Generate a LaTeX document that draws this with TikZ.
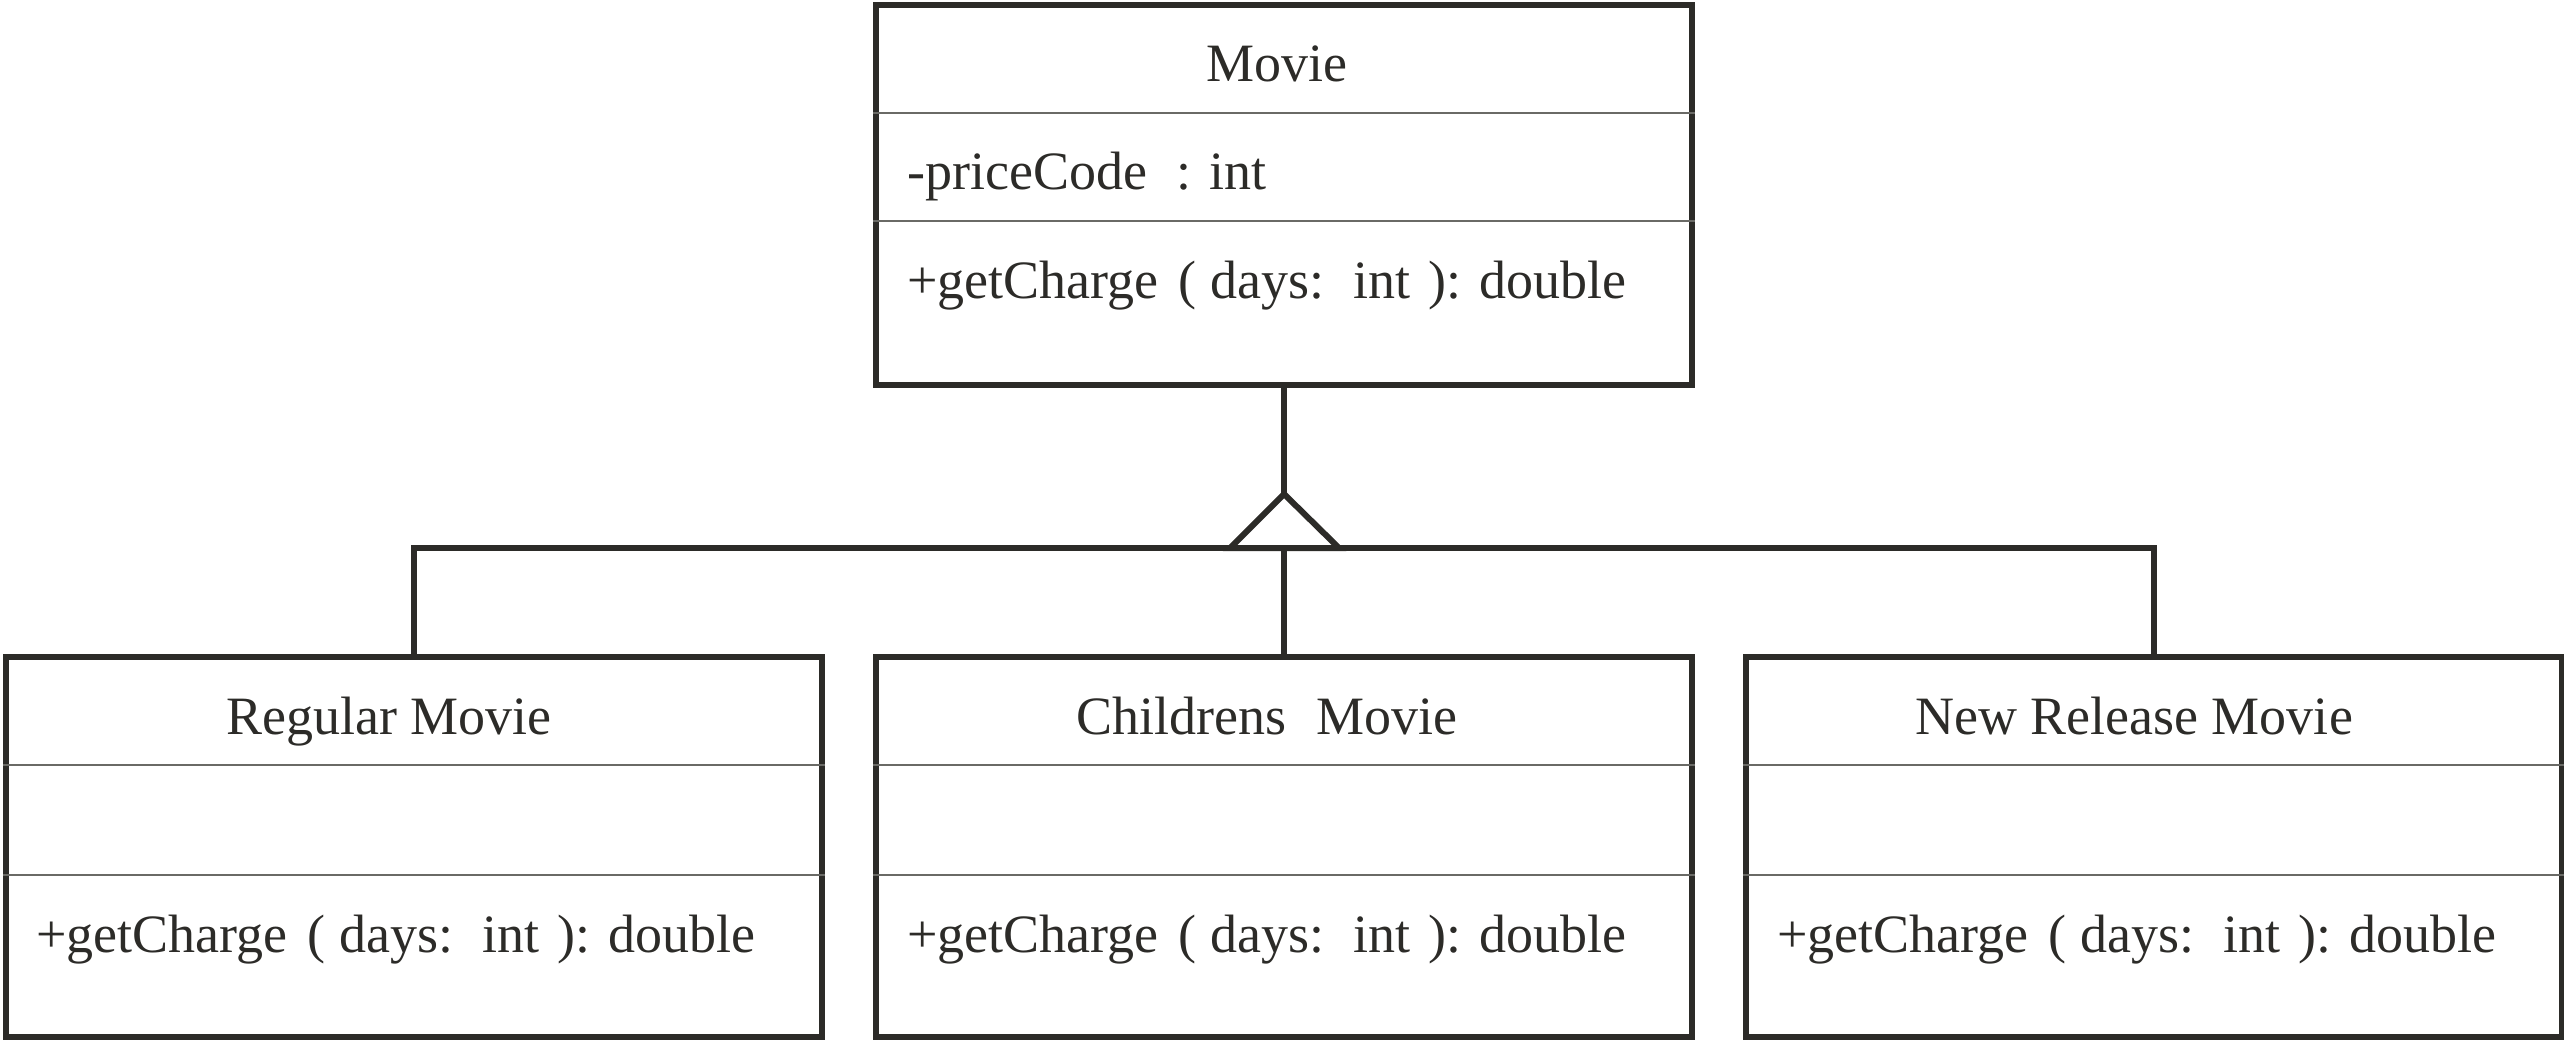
\documentclass[tikz,border=0pt]{standalone}
\usepackage{fontspec}
\setmainfont{Liberation Serif}
\definecolor{ink}{HTML}{2C2B28}
\definecolor{divc}{HTML}{6A6A66}
\newcommand{\opline}{+getCharge\hspace{0.12em} ( days:\hspace{0.22em} int\hspace{0.08em} ): double}
\begin{document}
\begin{tikzpicture}[x=1pt,y=-1pt,
  classbox/.style={draw=ink,line width=6pt,rectangle,minimum width=816pt,minimum height=380pt,inner sep=0pt},
  divline/.style={draw=divc,line width=1.6pt},
  conn/.style={draw=ink,line width=6pt,line join=miter},
  txt/.style={inner sep=0pt,text=ink,font=\fontsize{54}{58}\selectfont},
  lt/.style={txt,anchor=base west},
  ct/.style={txt,anchor=base}]
\useasboundingbox (0,0) rectangle (2564,1040);
% class boxes
\node[classbox] (movie) at (1284,195) {};
\node[classbox] (reg) at (414,847) {};
\node[classbox] (child) at (1284,847) {};
\node[classbox] (newr) at (2154,847) {};
% dividers
\draw[divline] (movie.west |- 0,113) -- (movie.east |- 0,113);
\draw[divline] (movie.west |- 0,221) -- (movie.east |- 0,221);
\foreach \b in {reg,child,newr}{
  \draw[divline] (\b.west |- 0,765) -- (\b.east |- 0,765);
  \draw[divline] (\b.west |- 0,875) -- (\b.east |- 0,875);
}
% texts
\node[ct] (tmovie) at (1277,82) {Movie};
\node[lt] (attr) at (907,190) {-priceCode\hspace{0.3em} : int};
\node[lt] (op0) at (907,299) {\opline};
\node[ct] (treg) at (389,734) {Regular Movie};
\node[ct] (tchild) at (1267,734) {Childrens\hspace{0.3em} Movie};
\node[ct] (tnew) at (2134,734) {New Release Movie};
\node[lt] (op1) at (36,952) {\opline};
\node[lt] (op2) at (907,952) {\opline};
\node[lt] (op3) at (1777,952) {\opline};
% generalization
\coordinate (apex) at (1284,494);
\coordinate (triL) at (1230,548);
\coordinate (triR) at (1339,548);
\coordinate (busL) at (reg.north |- 0,548);
\coordinate (busM) at (child.north |- 0,548);
\coordinate (busR) at (newr.north |- 0,548);
\draw[conn] (movie.south) -- (apex);
\draw[conn] (reg.north) -- (busL) -- (busR) -- (newr.north);
\draw[conn] (busM) -- (child.north);
\draw[conn,fill=white] (apex) -- (triL) -- (triR) -- cycle;
\end{tikzpicture}
\end{document}
